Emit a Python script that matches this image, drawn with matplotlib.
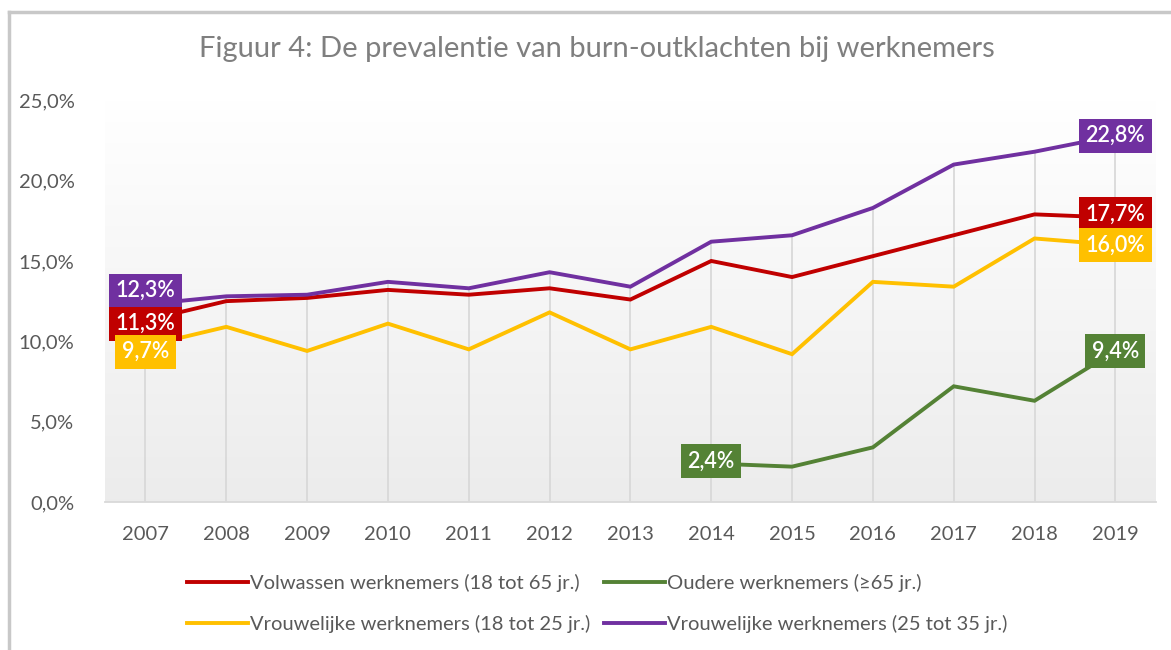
import numpy as np
import matplotlib.pyplot as plt
from matplotlib.lines import Line2D

plt.rcParams['font.family'] = ['Lato', 'DejaVu Sans']

years = ['2007', '2008', '2009', '2010', '2011', '2012', '2013',
         '2014', '2015', '2016', '2017', '2018', '2019']

volwassen = [11.3, 12.5, 12.7, 13.2, 12.9, 13.3, 12.6, 15.0, 14.0, 15.3, 16.6, 17.9, 17.7]
oudere = [np.nan] * 7 + [2.4, 2.2, 3.4, 7.2, 6.3, 9.4]
vrouw_18_25 = [9.7, 10.9, 9.4, 11.1, 9.5, 11.8, 9.5, 10.9, 9.2, 13.7, 13.4, 16.4, 16.0]
vrouw_25_35 = [12.3, 12.8, 12.9, 13.7, 13.3, 14.3, 13.4, 16.2, 16.6, 18.3, 21.0, 21.8, 22.8]

labels = ['Volwassen werknemers (18 tot 65 jr.)',
          'Oudere werknemers (\u226565 jr.)',
          'Vrouwelijke werknemers (18 tot 25 jr.)',
          'Vrouwelijke werknemers (25 tot 35 jr.)']
colors = ['#C00000', '#548235', '#FFC000', '#7030A0']
series = [volwassen, oudere, vrouw_18_25, vrouw_25_35]

fig = plt.figure(figsize=(11.71, 6.5), dpi=100)
ax = fig.add_axes([0.0897, 0.2277, 0.8973, 0.618])

x = np.arange(len(years))

# achtergrond met verloop
grad = np.linspace(1.0, 0.925, 256).reshape(-1, 1)
ax.imshow(np.dstack([grad, grad, grad]), extent=[-0.5, 12.5, 0, 25],
          aspect='auto', zorder=0, origin='upper')

# loodlijnen (drop lines) vanaf de hoogste reeks
top = np.nanmax(np.array(series, dtype=float), axis=0)
ax.vlines(x, 0, top, color='#d9d9d9', lw=1.3, zorder=1)

handles = []
for vals, col, lab in zip(series, colors, labels):
    h, = ax.plot(x, vals, color=col, lw=2.8, label=lab, zorder=3,
                 solid_joinstyle='miter')
    handles.append(h)

ax.set_xlim(-0.5, 12.5)
ax.set_ylim(0, 25)
ax.set_xticks(x)
ax.set_xticklabels(years)
ax.set_yticks(np.arange(0, 26, 5))
ax.set_yticklabels([f'{v:.1f}%'.replace('.', ',') for v in np.arange(0, 26, 5)])
ax.tick_params(axis='both', length=0, labelsize=14.5, colors='#595959')
ax.tick_params(axis='x', pad=17)
ax.tick_params(axis='y', pad=22)
for s in ['top', 'right', 'left']:
    ax.spines[s].set_visible(False)
ax.spines['bottom'].set_color('#d9d9d9')
ax.spines['bottom'].set_linewidth(1.3)


def label(i, vals, col, dy=0.0):
    v = vals[i]
    ax.text(x[i], v + dy, f'{v:.1f}%'.replace('.', ','), color='white',
            fontsize=15.5, ha='center', va='center', zorder=5,
            fontweight='semibold',
            bbox=dict(boxstyle='square,pad=0.3', fc=col, ec='none'))


# labels aan het begin
label(0, vrouw_25_35, colors[3], dy=0.85)
label(0, volwassen, colors[0], dy=-0.2)
label(0, vrouw_18_25, colors[2], dy=-0.35)
label(7, oudere, colors[1], dy=0.15)
# labels aan het eind
label(12, vrouw_25_35, colors[3])
label(12, volwassen, colors[0], dy=0.2)
label(12, vrouw_18_25, colors[2])
label(12, oudere, colors[1])

fig.text(0.51, 0.925, 'Figuur 4: De prevalentie van burn-outklachten bij werknemers',
         ha='center', va='center', fontsize=21, color='#7f7f7f')

order = [0, 2, 1, 3]
fig.legend([handles[k] for k in order], [labels[k] for k in order],
           ncol=2, loc='center', bbox_to_anchor=(0.51, 0.072), frameon=False,
           fontsize=14.5, labelcolor='#595959', handlelength=3.0,
           handletextpad=0.1, columnspacing=0.7, labelspacing=1.15)

# rand van de figuur
fig.add_artist(Line2D([0.0077, 0.0077], [0, 0.982], color='#c8c8c8', lw=2.5,
                      transform=fig.transFigure))
fig.add_artist(Line2D([0.0077, 1], [0.982, 0.982], color='#c8c8c8', lw=2.5,
                      transform=fig.transFigure))

fig.savefig('out.png', dpi=100)
